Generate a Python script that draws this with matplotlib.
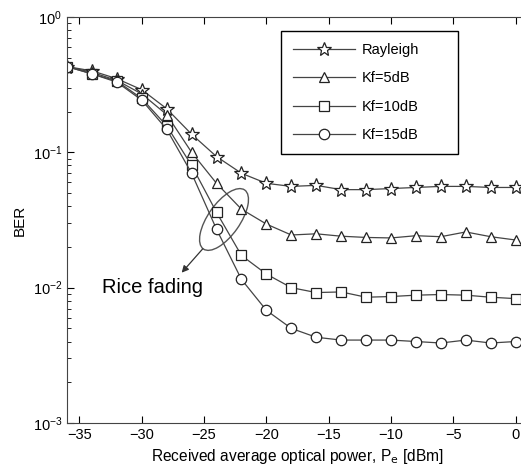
import matplotlib
matplotlib.use("Agg")
import matplotlib.pyplot as plt
import matplotlib.transforms as mtransforms
from matplotlib.patches import Ellipse

# potencia recebida (dBm)
potencia = [-36, -34, -32, -30, -28, -26, -24, -22, -20, -18,
            -16, -14, -12, -10, -8, -6, -4, -2, 0]

# BER
ber_rayleigh = [0.43, 0.40, 0.35, 0.29, 0.21, 0.136, 0.093, 0.070, 0.059, 0.056,
                0.057, 0.053, 0.053, 0.054, 0.055, 0.056, 0.056, 0.055, 0.055]
ber_kf5 = [0.43, 0.39, 0.34, 0.27, 0.19, 0.100, 0.059, 0.038, 0.0295, 0.0245,
           0.025, 0.024, 0.0235, 0.0233, 0.0242, 0.0238, 0.0258, 0.0238, 0.0225]
ber_kf10 = [0.43, 0.38, 0.336, 0.25, 0.157, 0.080, 0.036, 0.0173, 0.0126, 0.0100,
            0.0092, 0.0093, 0.0085, 0.0086, 0.0088, 0.0089, 0.0088, 0.0085, 0.0083]
ber_kf15 = [0.43, 0.38, 0.33, 0.243, 0.148, 0.070, 0.027, 0.0115, 0.0068, 0.0050,
            0.0043, 0.0041, 0.0041, 0.0041, 0.0040, 0.0039, 0.0041, 0.0039, 0.0040]

series = [("Rayleigh", ber_rayleigh, "*", 10),
          ("Kf=5dB", ber_kf5, "^", 7.5),
          ("Kf=10dB", ber_kf10, "s", 7),
          ("Kf=15dB", ber_kf15, "o", 7.5)]

plt.rcParams['font.family'] = ['Liberation Sans', 'DejaVu Sans']

fig = plt.figure(figsize=(5.21, 4.73), dpi=100)
ax = fig.add_axes([0.1286, 0.1057, 0.885, 0.8584])

for nome, valores, marcador, tam in series:
    ax.plot(potencia, valores, color="#444444", linewidth=0.9,
            marker=marcador, markersize=tam, markerfacecolor="white",
            markeredgecolor="#222222", markeredgewidth=0.9, label=nome)

ax.set_yscale("log")
ax.set_xlim(-36, 1)
ax.set_ylim(1e-3, 1)
ax.set_xticks([-35, -30, -25, -20, -15, -10, -5, 0])
ax.tick_params(which="both", direction="in", top=True, right=True, labelsize=10.5)
ax.tick_params(which="major", length=5)
ax.tick_params(which="minor", length=3)
for s in ax.spines.values():
    s.set_color("#444444")

ax.set_xlabel("Received average optical power, P$_{\\mathrm{e}}$ [dBm]", fontsize=11.2)
ax.set_ylabel("BER", fontsize=11)

# legenda com largura fixa como no original
leg = ax.legend(loc="upper left", bbox_to_anchor=(0.464, 0.9655, 0.384, 0.0),
                mode="expand", borderaxespad=0, fontsize=10.5,
                handlelength=4.3, handletextpad=0.45, labelspacing=1.0,
                borderpad=0.8, fancybox=False, framealpha=1, edgecolor="black")
leg.get_frame().set_linewidth(1.0)

# elipse em pixels em volta dos pontos de -24 dBm
centro = mtransforms.ScaledTranslation(-23.4, 0.0319, ax.transData)
elipse = Ellipse((0, 0), 72, 32, angle=55, fill=False, edgecolor="#555555",
                 linewidth=1.0, transform=mtransforms.Affine2D() + centro)
ax.add_patch(elipse)

ax.annotate("", xy=(-26.8, 0.0129), xytext=(-25.1, 0.0194),
            arrowprops=dict(arrowstyle="-|>", color="#333333", lw=0.9,
                            mutation_scale=10, shrinkA=0, shrinkB=0))
ax.text(-25.1, 0.0100, "Rice fading", fontsize=14.5, ha="right", va="center")

fig.savefig("out.png", dpi=100)
